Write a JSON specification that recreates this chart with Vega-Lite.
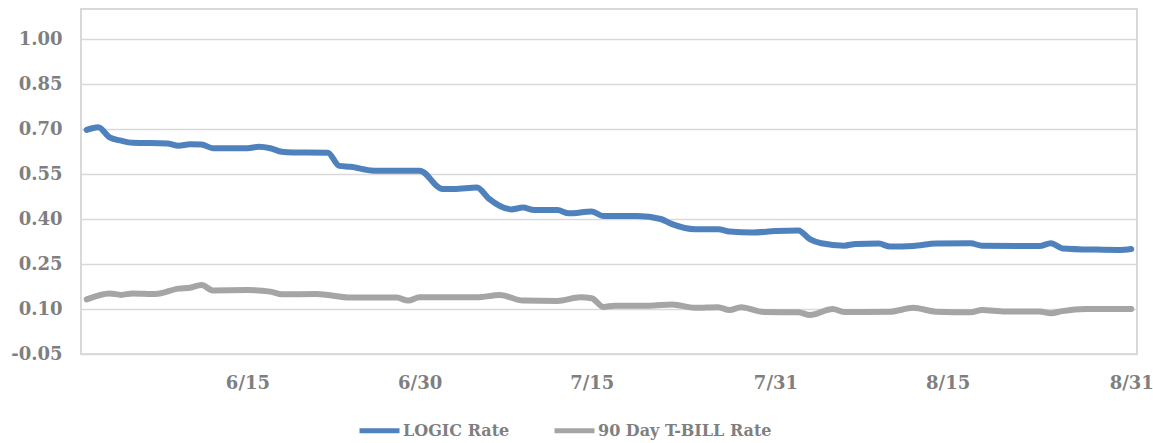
{
  "$schema": "https://vega.github.io/schema/vega-lite/v6.json",
  "width": 1056,
  "height": 345,
  "autosize": "none",
  "padding": {"left": 81, "top": 9, "right": 16, "bottom": 89},
  "background": "white",
  "config": {
    "view": {"stroke": "#D9D9D9", "strokeWidth": 2},
    "font": "DejaVu Serif"
  },
  "datasets": {
    "rates": [
      {"date": "2020-06-01", "series": "LOGIC Rate", "rate": 0.697},
      {"date": "2020-06-02", "series": "LOGIC Rate", "rate": 0.706},
      {"date": "2020-06-03", "series": "LOGIC Rate", "rate": 0.672},
      {"date": "2020-06-04", "series": "LOGIC Rate", "rate": 0.661},
      {"date": "2020-06-05", "series": "LOGIC Rate", "rate": 0.654},
      {"date": "2020-06-08", "series": "LOGIC Rate", "rate": 0.652},
      {"date": "2020-06-09", "series": "LOGIC Rate", "rate": 0.644},
      {"date": "2020-06-10", "series": "LOGIC Rate", "rate": 0.649},
      {"date": "2020-06-11", "series": "LOGIC Rate", "rate": 0.648},
      {"date": "2020-06-12", "series": "LOGIC Rate", "rate": 0.636},
      {"date": "2020-06-15", "series": "LOGIC Rate", "rate": 0.636},
      {"date": "2020-06-16", "series": "LOGIC Rate", "rate": 0.641},
      {"date": "2020-06-17", "series": "LOGIC Rate", "rate": 0.636},
      {"date": "2020-06-18", "series": "LOGIC Rate", "rate": 0.624},
      {"date": "2020-06-19", "series": "LOGIC Rate", "rate": 0.622},
      {"date": "2020-06-22", "series": "LOGIC Rate", "rate": 0.621},
      {"date": "2020-06-23", "series": "LOGIC Rate", "rate": 0.577},
      {"date": "2020-06-24", "series": "LOGIC Rate", "rate": 0.574},
      {"date": "2020-06-26", "series": "LOGIC Rate", "rate": 0.561},
      {"date": "2020-06-30", "series": "LOGIC Rate", "rate": 0.561},
      {"date": "2020-07-02", "series": "LOGIC Rate", "rate": 0.500},
      {"date": "2020-07-03", "series": "LOGIC Rate", "rate": 0.500},
      {"date": "2020-07-05", "series": "LOGIC Rate", "rate": 0.505},
      {"date": "2020-07-06", "series": "LOGIC Rate", "rate": 0.469},
      {"date": "2020-07-08", "series": "LOGIC Rate", "rate": 0.432},
      {"date": "2020-07-09", "series": "LOGIC Rate", "rate": 0.438},
      {"date": "2020-07-10", "series": "LOGIC Rate", "rate": 0.430},
      {"date": "2020-07-12", "series": "LOGIC Rate", "rate": 0.430},
      {"date": "2020-07-13", "series": "LOGIC Rate", "rate": 0.419},
      {"date": "2020-07-15", "series": "LOGIC Rate", "rate": 0.425},
      {"date": "2020-07-16", "series": "LOGIC Rate", "rate": 0.410},
      {"date": "2020-07-19", "series": "LOGIC Rate", "rate": 0.410},
      {"date": "2020-07-21", "series": "LOGIC Rate", "rate": 0.400},
      {"date": "2020-07-22", "series": "LOGIC Rate", "rate": 0.383},
      {"date": "2020-07-24", "series": "LOGIC Rate", "rate": 0.366},
      {"date": "2020-07-26", "series": "LOGIC Rate", "rate": 0.366},
      {"date": "2020-07-27", "series": "LOGIC Rate", "rate": 0.358},
      {"date": "2020-07-29", "series": "LOGIC Rate", "rate": 0.355},
      {"date": "2020-07-31", "series": "LOGIC Rate", "rate": 0.360},
      {"date": "2020-08-02", "series": "LOGIC Rate", "rate": 0.362},
      {"date": "2020-08-03", "series": "LOGIC Rate", "rate": 0.333},
      {"date": "2020-08-04", "series": "LOGIC Rate", "rate": 0.319},
      {"date": "2020-08-06", "series": "LOGIC Rate", "rate": 0.311},
      {"date": "2020-08-07", "series": "LOGIC Rate", "rate": 0.317},
      {"date": "2020-08-09", "series": "LOGIC Rate", "rate": 0.318},
      {"date": "2020-08-10", "series": "LOGIC Rate", "rate": 0.308},
      {"date": "2020-08-12", "series": "LOGIC Rate", "rate": 0.310},
      {"date": "2020-08-14", "series": "LOGIC Rate", "rate": 0.318},
      {"date": "2020-08-17", "series": "LOGIC Rate", "rate": 0.319},
      {"date": "2020-08-18", "series": "LOGIC Rate", "rate": 0.311},
      {"date": "2020-08-23", "series": "LOGIC Rate", "rate": 0.310},
      {"date": "2020-08-24", "series": "LOGIC Rate", "rate": 0.319},
      {"date": "2020-08-25", "series": "LOGIC Rate", "rate": 0.302},
      {"date": "2020-08-28", "series": "LOGIC Rate", "rate": 0.298},
      {"date": "2020-08-30", "series": "LOGIC Rate", "rate": 0.297},
      {"date": "2020-08-31", "series": "LOGIC Rate", "rate": 0.300},
      {"date": "2020-06-01", "series": "90 Day T-BILL Rate", "rate": 0.132},
      {"date": "2020-06-03", "series": "90 Day T-BILL Rate", "rate": 0.152},
      {"date": "2020-06-04", "series": "90 Day T-BILL Rate", "rate": 0.147},
      {"date": "2020-06-05", "series": "90 Day T-BILL Rate", "rate": 0.152},
      {"date": "2020-06-07", "series": "90 Day T-BILL Rate", "rate": 0.150},
      {"date": "2020-06-09", "series": "90 Day T-BILL Rate", "rate": 0.168},
      {"date": "2020-06-10", "series": "90 Day T-BILL Rate", "rate": 0.171},
      {"date": "2020-06-11", "series": "90 Day T-BILL Rate", "rate": 0.180},
      {"date": "2020-06-12", "series": "90 Day T-BILL Rate", "rate": 0.162},
      {"date": "2020-06-15", "series": "90 Day T-BILL Rate", "rate": 0.163},
      {"date": "2020-06-17", "series": "90 Day T-BILL Rate", "rate": 0.158},
      {"date": "2020-06-18", "series": "90 Day T-BILL Rate", "rate": 0.149},
      {"date": "2020-06-21", "series": "90 Day T-BILL Rate", "rate": 0.150},
      {"date": "2020-06-24", "series": "90 Day T-BILL Rate", "rate": 0.138},
      {"date": "2020-06-28", "series": "90 Day T-BILL Rate", "rate": 0.138},
      {"date": "2020-06-29", "series": "90 Day T-BILL Rate", "rate": 0.128},
      {"date": "2020-06-30", "series": "90 Day T-BILL Rate", "rate": 0.139},
      {"date": "2020-07-05", "series": "90 Day T-BILL Rate", "rate": 0.139},
      {"date": "2020-07-07", "series": "90 Day T-BILL Rate", "rate": 0.147},
      {"date": "2020-07-09", "series": "90 Day T-BILL Rate", "rate": 0.128},
      {"date": "2020-07-12", "series": "90 Day T-BILL Rate", "rate": 0.127},
      {"date": "2020-07-14", "series": "90 Day T-BILL Rate", "rate": 0.139},
      {"date": "2020-07-15", "series": "90 Day T-BILL Rate", "rate": 0.136},
      {"date": "2020-07-16", "series": "90 Day T-BILL Rate", "rate": 0.107},
      {"date": "2020-07-17", "series": "90 Day T-BILL Rate", "rate": 0.111},
      {"date": "2020-07-20", "series": "90 Day T-BILL Rate", "rate": 0.111},
      {"date": "2020-07-22", "series": "90 Day T-BILL Rate", "rate": 0.115},
      {"date": "2020-07-24", "series": "90 Day T-BILL Rate", "rate": 0.104},
      {"date": "2020-07-26", "series": "90 Day T-BILL Rate", "rate": 0.106},
      {"date": "2020-07-27", "series": "90 Day T-BILL Rate", "rate": 0.097},
      {"date": "2020-07-28", "series": "90 Day T-BILL Rate", "rate": 0.106},
      {"date": "2020-07-30", "series": "90 Day T-BILL Rate", "rate": 0.090},
      {"date": "2020-08-02", "series": "90 Day T-BILL Rate", "rate": 0.089},
      {"date": "2020-08-03", "series": "90 Day T-BILL Rate", "rate": 0.080},
      {"date": "2020-08-05", "series": "90 Day T-BILL Rate", "rate": 0.100},
      {"date": "2020-08-06", "series": "90 Day T-BILL Rate", "rate": 0.090},
      {"date": "2020-08-10", "series": "90 Day T-BILL Rate", "rate": 0.091},
      {"date": "2020-08-12", "series": "90 Day T-BILL Rate", "rate": 0.104},
      {"date": "2020-08-14", "series": "90 Day T-BILL Rate", "rate": 0.091},
      {"date": "2020-08-17", "series": "90 Day T-BILL Rate", "rate": 0.089},
      {"date": "2020-08-18", "series": "90 Day T-BILL Rate", "rate": 0.097},
      {"date": "2020-08-20", "series": "90 Day T-BILL Rate", "rate": 0.092},
      {"date": "2020-08-23", "series": "90 Day T-BILL Rate", "rate": 0.092},
      {"date": "2020-08-24", "series": "90 Day T-BILL Rate", "rate": 0.086},
      {"date": "2020-08-25", "series": "90 Day T-BILL Rate", "rate": 0.093},
      {"date": "2020-08-27", "series": "90 Day T-BILL Rate", "rate": 0.100},
      {"date": "2020-08-31", "series": "90 Day T-BILL Rate", "rate": 0.100}
    ]
  },
  "layer": [
    {
      "mark": {"type": "rule", "color": "#D9D9D9", "strokeWidth": 1.5},
      "encoding": {"y": {"datum": 0, "type": "quantitative"}}
    },
    {
      "data": {"name": "rates"},
      "mark": {"type": "line", "strokeWidth": 6, "interpolate": "monotone", "strokeCap": "round", "strokeJoin": "round"},
      "encoding": {
        "x": {
          "field": "date",
          "type": "temporal",
          "scale": {
            "type": "utc",
            "domain": [
              {"year": 2020, "month": 5, "date": 31, "hours": 12, "utc": true},
              {"year": 2020, "month": 8, "date": 31, "hours": 12, "utc": true}
            ]
          },
          "axis": {
            "title": null,
            "values": [
              {"year": 2020, "month": 6, "date": 15, "utc": true},
              {"year": 2020, "month": 6, "date": 30, "utc": true},
              {"year": 2020, "month": 7, "date": 15, "utc": true},
              {"year": 2020, "month": 7, "date": 31, "utc": true},
              {"year": 2020, "month": 8, "date": 15, "utc": true},
              {"year": 2020, "month": 8, "date": 31, "utc": true}
            ],
            "labelExpr": "utcFormat(datum.value, '%-m/%-d')",
            "domain": false,
            "ticks": false,
            "grid": false,
            "labelPadding": 20,
            "labelFont": "DejaVu Serif",
            "labelFontWeight": "bold",
            "labelFontSize": 18,
            "labelColor": "#7F7F7F",
            "labelFlush": false,
            "labelOverlap": false
          }
        },
        "y": {
          "field": "rate",
          "type": "quantitative",
          "scale": {"domain": [-0.05, 1.1], "nice": false, "zero": false},
          "axis": {
            "title": null,
            "values": [-0.05, 0.1, 0.25, 0.4, 0.55, 0.7, 0.85, 1.0],
            "labelExpr": "datum.value < 0 ? '-' + format(-datum.value, '.2f') : format(datum.value, '.2f')",
            "domain": false,
            "ticks": false,
            "grid": true,
            "gridColor": "#D9D9D9",
            "gridWidth": 1.5,
            "labelPadding": 19,
            "labelFont": "DejaVu Serif",
            "labelFontWeight": "bold",
            "labelFontSize": 18,
            "labelColor": "#7F7F7F"
          }
        },
        "color": {
          "field": "series",
          "type": "nominal",
          "scale": {"domain": ["LOGIC Rate", "90 Day T-BILL Rate"], "range": ["#4F81BD", "#A5A5A5"]},
          "legend": {
            "title": null,
            "orient": "none",
            "direction": "horizontal",
            "legendX": 276,
            "legendY": 399,
            "symbolType": "stroke",
            "symbolSize": 1600,
            "symbolStrokeWidth": 5,
            "labelOffset": 1,
            "labelLimit": 400,
            "columnPadding": 34,
            "labelFont": "DejaVu Serif",
            "labelFontWeight": "bold",
            "labelFontSize": 16,
            "labelColor": "#7F7F7F"
          }
        }
      }
    }
  ]
}
